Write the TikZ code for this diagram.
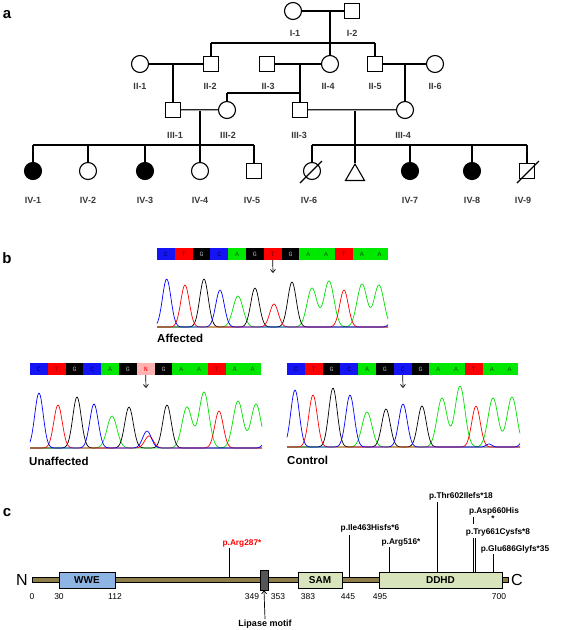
\documentclass[tikz,border=0pt]{standalone}
\usepackage{fontspec}
\setmainfont{Liberation Sans}
\newfontfamily\seqfont{Liberation Mono}
\usetikzlibrary{arrows.meta,shapes.geometric}
\definecolor{sqblue}{RGB}{20,20,245}
\definecolor{sqred}{RGB}{255,0,0}
\definecolor{sqgreen}{RGB}{0,232,0}
\definecolor{sqpink}{RGB}{255,178,178}
\definecolor{sqnavy}{RGB}{0,0,110}
\definecolor{sqdred}{RGB}{120,0,0}
\definecolor{sqgray}{RGB}{175,175,175}
\definecolor{sqdgreen}{RGB}{0,90,0}
\definecolor{chgreen}{RGB}{0,225,0}
\definecolor{chblue}{RGB}{0,0,255}
\definecolor{bbone}{RGB}{140,125,75}
\definecolor{wwecol}{RGB}{141,180,226}
\definecolor{domcol}{RGB}{216,228,188}
\definecolor{lipcol}{RGB}{85,85,85}
\definecolor{labgray}{RGB}{55,55,55}
\tikzset{
  declare function={gp(\pa,\pb,\pc)=exp(-min(((\pa-\pb)/\pc)*((\pa-\pb)/\pc),9));},
  pedline/.style={line width=1.1pt},
  fem/.style={circle,draw,line width=1.1pt,minimum size=17pt,inner sep=0pt},
  mal/.style={rectangle,draw,line width=1.1pt,minimum size=15pt,inner sep=0pt},
  aff/.style={fill=black},
  tri/.style={regular polygon,regular polygon sides=3,draw,line width=1.1pt,minimum size=22pt,inner sep=0pt},
  dbl/.style={draw=black!85,line width=0.8pt,double=black!35,double distance=1pt},
  plab/.style={font=\fontsize{9}{10}\selectfont\bfseries,text=labgray,inner sep=0pt},
  panlab/.style={font=\fontsize{15}{16}\selectfont\bfseries,inner sep=0pt},
  basebox/.style={rectangle,minimum width=17.8pt,minimum height=12pt,inner sep=0pt,font=\seqfont\fontsize{6.5}{7}\selectfont},
  chromline/.style={line width=0.7pt,line join=round},
  seqarrow/.style={-{Straight Barb[length=3pt,width=5pt]},line width=0.7pt},
  grplab/.style={font=\fontsize{11.5}{12}\selectfont\bfseries,inner sep=0pt,anchor=west},
  dombox/.style={draw,line width=0.6pt,minimum height=16pt,inner sep=0pt,font=\fontsize{10}{11}\selectfont\bfseries},
  mut/.style={font=\fontsize{8.3}{9}\selectfont\bfseries,inner sep=0.5pt},
  num/.style={font=\fontsize{8.5}{9}\selectfont,inner sep=0pt},
  mline/.style={line width=0.7pt}
}
\newcommand\chromcurve[5]{%
  \gdef\chromexpr{#4}%
  \foreach \pkc/\pkh/\pkw in {#5}{\xdef\chromexpr{\unexpanded\expandafter{\chromexpr}-\pkh*gp(\noexpand\x,\pkc,\pkw)}}%
  \draw[chromline,#1] plot[domain=#2:#3,samples=232,variable=\x] (\x,{\chromexpr});%
}
\newcommand\seqbar[4]{%
  \foreach \sqL/\sqF/\sqT [count=\sqi] in {#4}{%
    \node[basebox,fill=\sqF,text=\sqT] (#1\sqi) at ({#2+(\sqi-0.5)*17.8},#3) {\sqL};}%
}
\begin{document}
\begin{tikzpicture}[x=1pt,y=-1pt]
\useasboundingbox (0,0) rectangle (565,630);
\fill[white] (0,0) rectangle (565,630);

% ---------------- panel a ----------------
\node[panlab] (pa) at (7,15) {a};
\node[fem] (I1) at (293,11) {};
\node[mal] (I2) at (352,11) {};
\node[fem] (II1) at (140,64) {};
\node[mal] (II2) at (211,64) {};
\node[mal] (II3) at (267,64) {};
\node[fem] (II4) at (330,64) {};
\node[mal] (II5) at (375,64) {};
\node[fem] (II6) at (435,64) {};
\node[mal] (III1) at (173,110) {};
\node[fem] (III2) at (227,110) {};
\node[mal] (III3) at (300,110) {};
\node[fem] (III4) at (405,110) {};
\node[fem,aff] (IV1) at (33,171) {};
\node[fem] (IV2) at (88,171) {};
\node[fem,aff] (IV3) at (145,171) {};
\node[fem] (IV4) at (200,171) {};
\node[mal] (IV5) at (254,171) {};
\node[fem] (IV6) at (312,171) {};
\node[tri] (TR) at (355,175) {};
\node[fem,aff] (IV7) at (410,171) {};
\node[fem,aff] (IV8) at (472,171) {};
\node[mal] (IV9) at (527,171) {};

\coordinate (mI) at (330,11);
\coordinate (sIIa) at (211,43);
\coordinate (sIIb) at (375,43);
\coordinate (m12) at (173,64);
\coordinate (m34) at (300,64);
\coordinate (s3a) at (227,93);
\coordinate (s3b) at (300,93);
\coordinate (m56) at (405,64);
\coordinate (m3a) at (200,110);
\coordinate (m3b) at (355,110);
\coordinate (s4a) at (33,145);
\coordinate (s4b) at (88,145);
\coordinate (s4c) at (145,145);
\coordinate (s4d) at (200,145);
\coordinate (s4e) at (254,145);
\coordinate (s5a) at (312,145);
\coordinate (s5b) at (355,145);
\coordinate (s5c) at (410,145);
\coordinate (s5d) at (472,145);
\coordinate (s5e) at (527,145);

\begin{scope}[pedline]
\draw (I1) -- (I2);
\draw (mI) -- (II4);
\draw (sIIa) -- (sIIb);
\draw (sIIa) -- (II2);
\draw (sIIb) -- (II5);
\draw (II1) -- (II2);
\draw (m12) -- (III1);
\draw (II3) -- (II4);
\draw (m34) -- (III3);
\draw (s3a) -- (s3b);
\draw (s3a) -- (III2);
\draw (II5) -- (II6);
\draw (m56) -- (III4);
\draw (m3a) -- (s4d);
\draw (s4a) -- (s4e);
\draw (s4a) -- (IV1);
\draw (s4b) -- (IV2);
\draw (s4c) -- (IV3);
\draw (s4d) -- (IV4);
\draw (s4e) -- (IV5);
\draw (m3b) -- (TR);
\draw (s5a) -- (s5e);
\draw (s5a) -- (IV6);
\draw (s5c) -- (IV7);
\draw (s5d) -- (IV8);
\draw (s5e) -- (IV9);
\coordinate (d6a) at (300,183);
\coordinate (d6b) at (322,161);
\coordinate (d9a) at (517,183);
\coordinate (d9b) at (539,161);
\draw (d6a) -- (d6b);
\draw (d9a) -- (d9b);
\end{scope}
\draw[dbl] (III1) -- (III2);
\draw[dbl] (III3) -- (III4);

\node[plab] (lI1) at (295,33) {I-1};
\node[plab] (lI2) at (352,33) {I-2};
\node[plab] (lII1) at (140,86) {II-1};
\node[plab] (lII2) at (210,86) {II-2};
\node[plab] (lII3) at (268,86) {II-3};
\node[plab] (lII4) at (328,86) {II-4};
\node[plab] (lII5) at (375,86) {II-5};
\node[plab] (lII6) at (435,86) {II-6};
\node[plab] (lIII1) at (175,135) {III-1};
\node[plab] (lIII2) at (228,135) {III-2};
\node[plab] (lIII3) at (299,135) {III-3};
\node[plab] (lIII4) at (403,135) {III-4};
\node[plab] (lIV1) at (33,200) {IV-1};
\node[plab] (lIV2) at (88,200) {IV-2};
\node[plab] (lIV3) at (145,200) {IV-3};
\node[plab] (lIV4) at (200,200) {IV-4};
\node[plab] (lIV5) at (252,200) {IV-5};
\node[plab] (lIV6) at (309,200) {IV-6};
\node[plab] (lIV7) at (410,200) {IV-7};
\node[plab] (lIV8) at (472,200) {IV-8};
\node[plab] (lIV9) at (523,200) {IV-9};

% ---------------- panel b ----------------
\node[panlab] (pb) at (7,258) {b};
\seqbar{A}{157}{254}{C/sqblue/sqnavy,T/sqred/sqdred,G/black/sqgray,C/sqblue/sqnavy,A/sqgreen/sqdgreen,G/black/sqgray,T/sqred/sqdred,G/black/sqgray,A/sqgreen/sqdgreen,A/sqgreen/sqdgreen,T/sqred/sqdred,A/sqgreen/sqdgreen,A/sqgreen/sqdgreen}
\seqbar{U}{30}{369}{C/sqblue/sqnavy,T/sqred/sqdred,G/black/sqgray,C/sqblue/sqnavy,A/sqgreen/sqdgreen,G/black/sqgray,N/sqpink/sqred,G/black/sqgray,A/sqgreen/sqdgreen,A/sqgreen/sqdgreen,T/sqred/sqdred,A/sqgreen/sqdgreen,A/sqgreen/sqdgreen}
\seqbar{K}{287}{369}{C/sqblue/sqnavy,T/sqred/sqdred,G/black/sqgray,C/sqblue/sqnavy,A/sqgreen/sqdgreen,G/black/sqgray,C/sqblue/sqnavy,G/black/sqgray,A/sqgreen/sqdgreen,A/sqgreen/sqdgreen,T/sqred/sqdred,A/sqgreen/sqdgreen,A/sqgreen/sqdgreen}
\coordinate (Aar) at (273,273);
\coordinate (Uar) at (146,388);
\coordinate (Kar) at (403,388);
\draw[seqarrow] (A7.south) -- (Aar);
\draw[seqarrow] (U7.south) -- (Uar);
\draw[seqarrow] (K7.south) -- (Kar);

% chromatograms
\chromcurve{chgreen}{157}{388}{327}{238/31/7,312/39/7,329/46/7,362/43/7,379/42/7}
\chromcurve{black}{157}{388}{327}{204/48/6,255/39/6,292/45/6}
\chromcurve{sqred}{157}{388}{327}{185/42/6,274/23/6,344/37/6}
\chromcurve{chblue}{157}{388}{327}{166.7/48/6,220/37/6,391/4/4}

\chromcurve{chgreen}{30}{262}{448}{112/32/7,187/41/7,204/56/7,238/47/7,256/44/7}
\chromcurve{black}{30}{262}{448}{77/51/6,129/41/6,167/43/6}
\chromcurve{sqred}{30}{262}{448}{58/43/6,149/12/6,219/37/6}
\chromcurve{chblue}{30}{262}{448}{39/55/6,94/44/6,147/17/6,265/5/4}

\chromcurve{chgreen}{287}{520}{447}{367/35/7,442/49/7,460/61/7,493/49/7,512/50/7}
\chromcurve{black}{287}{520}{447}{333/59/6,386/38/6,422/41/6}
\chromcurve{sqred}{287}{520}{447}{313/52/6,476/41/6}
\chromcurve{chblue}{287}{520}{447}{295/57/6,350/52/6,403/43/6,489/3/4,523/6/4}

\node[grplab] (gA) at (157,338) {Affected};
\node[grplab] (gU) at (29,461) {Unaffected};
\node[grplab] (gC) at (287,460) {Control};

% ---------------- panel c ----------------
\node[panlab] (pc) at (7,513) {c};
\node[draw,line width=0.6pt,fill=bbone,minimum width=476pt,minimum height=4.5pt,inner sep=0pt] (bb) at (270,580) {};
\node[font=\fontsize{16}{17}\selectfont,inner sep=0pt] (Nt) at (22,580) {N};
\node[font=\fontsize{16}{17}\selectfont,inner sep=0pt] (Ct) at (517,580) {C};
\node[dombox,fill=wwecol,minimum width=56pt] (WWE) at (87,580) {WWE};
\node[draw,line width=0.6pt,fill=lipcol,minimum width=8pt,minimum height=20pt,inner sep=0pt] (LIP) at (264,580) {};
\node[dombox,fill=domcol,minimum width=44pt] (SAM) at (320,580) {SAM};
\node[dombox,fill=domcol,minimum width=123pt] (DDHD) at (440.5,580) {DDHD};

\node[num] (n0) at (32,597) {0};
\node[num] (n30) at (59,597) {30};
\node[num] (n112) at (115,597) {112};
\node[num] (n349) at (252,597) {349};
\node[num] (n353) at (278,597) {353};
\node[num] (n383) at (308,597) {383};
\node[num] (n445) at (348,597) {445};
\node[num] (n495) at (380,597) {495};
\node[num] (n700) at (499,597) {700};

\node[mut,font=\fontsize{9}{10}\selectfont\bfseries] (lip) at (265,624) {Lipase motif};
\draw[seqarrow] (lip.north) -- (LIP.south);

\node[mut,text=sqred] (m287) at (242,543) {p.Arg287*};
\node[mut] (m463) at (370,528) {p.Ile463Hisfs*6};
\node[mut] (m516) at (401,542) {p.Arg516*};
\node[mut] (m602) at (461,496) {p.Thr602Ilefs*18};
\node[mut] (m660) at (494,511) {p.Asp660His};
\node[mut] (m660s) at (493,519) {*};
\node[mut] (m661) at (498,532) {p.Try661Cysfs*8};
\node[mut] (m686) at (515,549) {p.Glu686Glyfs*35};

\coordinate (k287) at (229,548);
\coordinate (k463) at (349,535);
\coordinate (k516) at (389,547);
\coordinate (k602) at (437,502);
\coordinate (k660a) at (473,517);
\coordinate (k660b) at (473,524);
\coordinate (k660c) at (473,538);
\coordinate (k661) at (475.5,538);
\coordinate (k686) at (493,554);
\begin{scope}[mline]
\draw (k287) -- (k287 |- bb.north);
\draw (k463) -- (k463 |- bb.north);
\draw (k516) -- (k516 |- DDHD.north);
\draw (k602) -- (k602 |- DDHD.north);
\draw (k660a) -- (k660b);
\draw (k660c) -- (k660c |- DDHD.north);
\draw (k661) -- (k661 |- DDHD.north);
\draw (k686) -- (k686 |- DDHD.north);
\end{scope}
\end{tikzpicture}
\end{document}
